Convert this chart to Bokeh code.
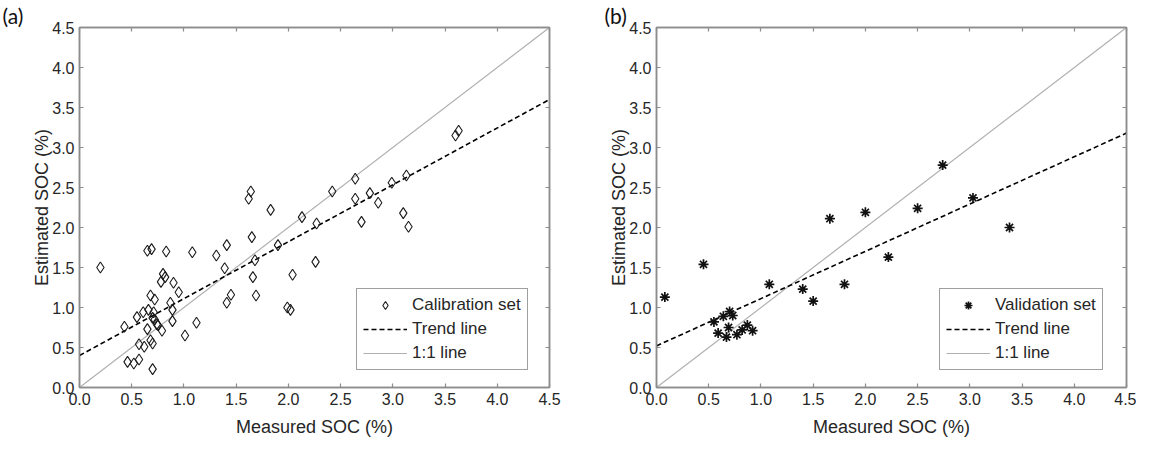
from bokeh.plotting import figure
from bokeh.models import (Range1d, LinearAxis, FixedTicker, NumeralTickFormatter,
                          Legend, LegendItem, Title)
from bokeh.layouts import row
from bokeh.embed import file_html
from bokeh.resources import INLINE

# ---- data ----
cal_measured = [0.20, 0.65, 0.69, 0.83, 1.08, 1.31, 1.41, 1.39, 1.65, 1.68, 1.90, 1.66,
                1.45, 1.41, 1.69, 1.99, 2.02, 2.04, 0.80, 0.82, 0.78, 0.90, 0.95, 0.68,
                0.72, 0.87, 0.89, 0.89, 1.12, 1.01, 0.43, 0.55, 0.61, 0.66, 0.71, 0.70,
                0.72, 0.65, 0.75, 0.79, 0.74, 0.68, 0.70, 0.57, 0.62, 0.46, 0.52, 0.57,
                0.70, 1.64, 1.62, 1.83, 2.13, 2.42, 2.27, 2.26, 2.64, 2.64, 2.78, 2.86,
                2.99, 3.13, 2.70, 3.10, 3.15, 3.60, 3.63]
cal_estimated = [1.50, 1.71, 1.73, 1.70, 1.69, 1.65, 1.78, 1.49, 1.88, 1.59, 1.78, 1.38,
                 1.16, 1.06, 1.15, 1.00, 0.97, 1.41, 1.42, 1.38, 1.32, 1.31, 1.19, 1.15,
                 1.10, 1.06, 0.97, 0.83, 0.81, 0.65, 0.76, 0.88, 0.94, 0.97, 0.94, 0.87,
                 0.85, 0.73, 0.78, 0.71, 0.79, 0.59, 0.55, 0.54, 0.51, 0.32, 0.30, 0.35,
                 0.23, 2.45, 2.36, 2.22, 2.13, 2.45, 2.05, 1.57, 2.61, 2.36, 2.43, 2.31,
                 2.56, 2.65, 2.07, 2.18, 2.01, 3.15, 3.21]

val_measured = [0.08, 0.45, 0.55, 0.59, 0.64, 0.67, 0.69, 0.70, 0.73, 0.77, 0.82, 0.87,
                0.92, 1.08, 1.40, 1.50, 1.66, 1.80, 2.00, 2.22, 2.50, 2.74, 3.03, 3.38]
val_estimated = [1.13, 1.54, 0.82, 0.68, 0.89, 0.63, 0.75, 0.95, 0.90, 0.66, 0.72, 0.78,
                 0.71, 1.29, 1.23, 1.08, 2.11, 1.29, 2.19, 1.63, 2.24, 2.78, 2.37, 2.00]

one_to_one_x = [0.0, 4.5]
one_to_one_y = [0.0, 4.5]
cal_trend_x = [0.0, 4.5]
cal_trend_y = [0.40, 3.60]
val_trend_x = [0.0, 4.5]
val_trend_y = [0.52, 3.18]

ticks = [0.0, 0.5, 1.0, 1.5, 2.0, 2.5, 3.0, 3.5, 4.0, 4.5]

FONT = "Liberation Sans"
AXIS_GRAY = "#8c8c8c"
TEXT = "#262626"


def style_axis(ax, labels=True):
    ax.ticker = FixedTicker(ticks=ticks)
    ax.formatter = NumeralTickFormatter(format="0.0")
    ax.major_tick_in = 4
    ax.major_tick_out = 0
    ax.minor_tick_line_color = None
    ax.axis_line_color = AXIS_GRAY
    ax.axis_line_width = 1.5
    ax.major_tick_line_color = AXIS_GRAY
    ax.major_tick_line_width = 1.2
    ax.major_label_text_font = FONT
    ax.major_label_text_font_size = "16px"
    ax.major_label_text_color = TEXT if labels else None
    ax.major_label_standoff = 5
    ax.axis_label_text_font = FONT
    ax.axis_label_text_font_size = "18px"
    ax.axis_label_text_font_style = "normal"
    ax.axis_label_text_color = TEXT
    ax.axis_label_standoff = 8


def make_fig(width, border_left, border_right, xs, ys, marker, lbl, trend_x, trend_y,
             panel_tag, tag_offset, legend_x):
    title = Title(text=panel_tag, align="left", offset=tag_offset, standoff=0,
                  text_font="Lato", text_font_size="21px", text_font_style="normal",
                  text_color="#111111")
    p = figure(width=width, height=448, output_backend="svg", toolbar_location=None,
               x_range=Range1d(0, 4.5), y_range=Range1d(0, 4.5),
               min_border_left=border_left, min_border_right=border_right,
               min_border_top=27, min_border_bottom=61, title=title)
    p.xgrid.visible = False
    p.ygrid.visible = False
    p.outline_line_color = AXIS_GRAY
    p.outline_line_width = 1.5
    p.background_fill_color = "white"
    p.border_fill_color = "white"

    style_axis(p.xaxis[0])
    style_axis(p.yaxis[0])
    p.xaxis[0].axis_label = "Measured SOC (%)"
    p.yaxis[0].axis_label = "Estimated SOC (%)"
    p.xaxis[0].axis_label_standoff = 9
    p.yaxis[0].axis_label_standoff = -3
    top = LinearAxis()
    right = LinearAxis()
    style_axis(top, labels=False)
    style_axis(right, labels=False)
    top.major_label_text_font_size = "0px"
    right.major_label_text_font_size = "0px"
    top.major_label_standoff = 0
    right.major_label_standoff = 0
    p.add_layout(top, "above")
    p.add_layout(right, "right")

    r_one = p.line(one_to_one_x, one_to_one_y, line_color="#b0b0b0", line_width=1.2)
    r_trend = p.line(trend_x, trend_y, line_color="black", line_width=1.6,
                     line_dash="5 3")
    if marker == "diamond":
        r_pts = p.scatter(xs, ys, marker="diamond", size=11, fill_color=None,
                          line_color="#1a1a1a", line_width=1.1)
    else:
        r_pts = p.scatter(xs, ys, marker="asterisk", size=10, line_color="#111111",
                          line_width=1.7)

    legend = Legend(items=[LegendItem(label=lbl, renderers=[r_pts]),
                           LegendItem(label="Trend line", renderers=[r_trend]),
                           LegendItem(label="1:1 line", renderers=[r_one])],
                    location=(legend_x, 17))
    legend.label_text_font = FONT
    legend.label_text_font_size = "17px"
    legend.label_text_color = TEXT
    legend.glyph_width = 44
    legend.glyph_height = 20
    legend.label_height = 20
    legend.label_standoff = 5
    legend.spacing = 4
    legend.padding = 6
    legend.margin = 0
    legend.border_line_color = "#404040"
    legend.border_line_width = 1
    legend.background_fill_alpha = 1.0
    p.add_layout(legend, "center")
    return p


p1 = make_fig(600, 79, 51, cal_measured, cal_estimated, "diamond", "Calibration set",
              cal_trend_x, cal_trend_y, "(a)", -77, 277)
p2 = make_fig(536, 56, 10, val_measured, val_estimated, "asterisk", "Validation set",
              val_trend_x, val_trend_y, "(b)", -52, 283)

layout = row(p1, p2)
open("out.html", "w").write(file_html(layout, INLINE))
